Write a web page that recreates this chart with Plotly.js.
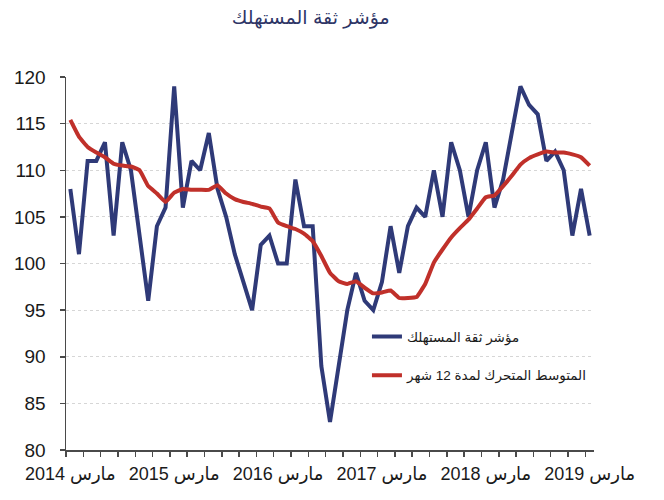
<!DOCTYPE html>
<html>
<head>
<meta charset="utf-8">
<script src="https://cdn.plot.ly/plotly-3.0.1.min.js"></script>
<style>html,body{margin:0;padding:0;background:#fff;}#chart{width:664px;height:500px;}</style>
</head>
<body>
<div id="chart"></div>
<script>
// Monthly, March 2014 .. March 2019
const confidence = [108,101,111,111,113,103,113,110,103,96,104,106,
  119,106,111,110,114,108,105,101,98,95,102,103,
  100,100,109,104,104,89,83,89,95,99,96,95,
  98,104,99,104,106,105,110,105,113,110,105,110,
  113,106,109,114,119,117,116,111,112,110,103,108,
  103];
const movingAvg = [115.4,113.6,112.5,111.9,111.4,110.7,110.5,110.4,110.0,108.3,107.5,106.6,
  107.6,108.0,107.9,107.9,107.9,108.4,107.5,106.9,106.6,106.4,106.1,105.9,
  104.4,104.0,103.7,103.2,102.4,100.8,99.0,98.1,97.8,98.1,97.4,96.8,
  96.9,97.1,96.3,96.3,96.4,97.8,100.1,101.5,102.8,103.8,104.7,105.9,
  107.1,107.3,108.3,109.4,110.6,111.3,111.7,112.0,111.9,111.9,111.7,111.4,
  110.5];
const monthIndex = confidence.map((_, i) => i);
const xLabelPos = [0, 12, 24, 36, 48, 60];
const xLabelText = ['مارس 2014','مارس 2015','مارس 2016','مارس 2017','مارس 2018','مارس 2019'];
const yTicks = [80, 85, 90, 95, 100, 105, 110, 115, 120];
const seriesNames = ['مؤشر ثقة المستهلك', 'المتوسط المتحرك لمدة 12 شهر'];
const titleText = 'مؤشر ثقة المستهلك';

const FONT = 'Liberation Sans, Arial, DejaVu Sans, sans-serif';
const AXIS = '#4a4a4a';

const traces = [
  {x: monthIndex, y: confidence, type: 'scatter', mode: 'lines', name: seriesNames[0],
   line: {color: '#2f3a78', width: 4}, legendgroup: 'a'},
  {x: monthIndex, y: movingAvg, type: 'scatter', mode: 'lines', name: seriesNames[1],
   line: {color: '#c0302a', width: 4, shape: 'spline', smoothing: 0.3}, legendgroup: 'b'}
];

const yCommon = {
  range: [80, 120], tickvals: yTicks, showline: true, linecolor: AXIS, linewidth: 1.5,
  ticks: 'outside', ticklen: 5, tickcolor: AXIS, tickwidth: 1.5,
  tickfont: {family: FONT, size: 19, color: '#1a1a1a'}, zeroline: false
};

const layout = {
  width: 664, height: 500,
  margin: {l: 66, r: 70, t: 77, b: 50},
  paper_bgcolor: '#fff', plot_bgcolor: '#fff',
  title: {text: titleText, x: 0.468, xanchor: 'center', y: 0.965, yanchor: 'middle',
          font: {family: FONT, size: 19, color: '#2e3566'}},
  showlegend: true,
  legend: {x: 0.57, y: 0.345, xanchor: 'left', yanchor: 'top', bgcolor: 'rgba(0,0,0,0)',
           font: {family: FONT, size: 13.5, color: '#1a1a1a'}, traceorder: 'grouped', tracegroupgap: 18},
  xaxis: {
    range: [-0.5, 60.5], tickvals: xLabelPos, ticktext: xLabelText, ticks: '',
    showline: true, linecolor: AXIS, linewidth: 1.5, showgrid: false, zeroline: false,
    tickfont: {family: FONT, size: 18, color: '#1a1a1a'}, ticklabelstandoff: 7,
    minor: {tick0: -0.5, dtick: 2, ticks: 'outside', ticklen: 5, tickcolor: AXIS, tickwidth: 1.5, showgrid: false}
  },
  yaxis: Object.assign({}, yCommon, {side: 'left', showgrid: true, gridcolor: '#d6d6d6', griddash: 'dot', gridwidth: 1, ticklabelstandoff: 10}),
  yaxis2: Object.assign({}, yCommon, {side: 'right', overlaying: 'y', showgrid: false, ticklabelstandoff: 10})
};

Plotly.newPlot('chart', traces, layout, {displayModeBar: false, staticPlot: true});
</script>
</body>
</html>
